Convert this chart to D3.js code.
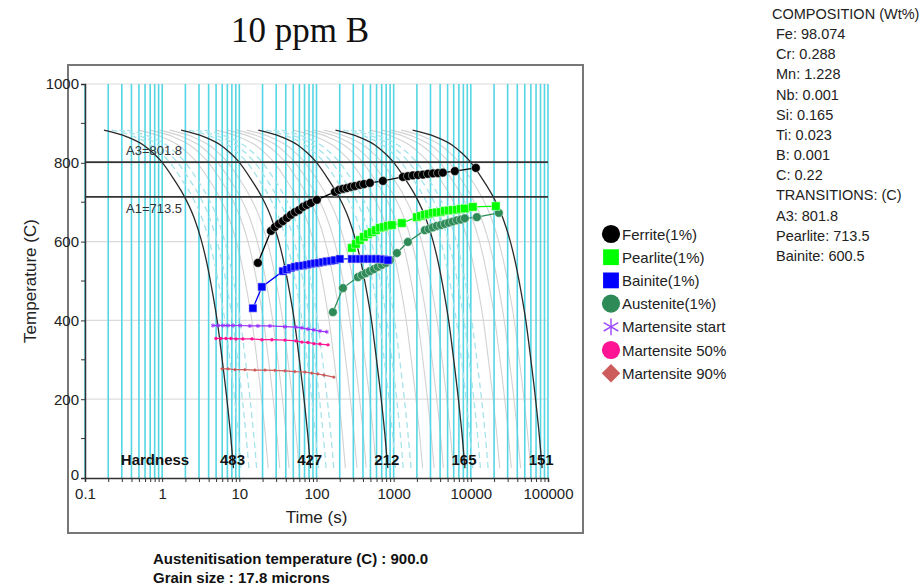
<!DOCTYPE html>
<html><head><meta charset="utf-8">
<script src="https://cdn.jsdelivr.net/npm/d3@7"></script>
<style>
body{margin:0;background:#fff}
svg{display:block}
text{font-family:"Liberation Sans",Arial,sans-serif}
</style>
</head><body>
<svg id="c" width="922" height="587"></svg>
<script>
// ---------------- data ----------------
const titleText = "10 ppm B";
const xTickLabels = ["0.1","1","10","100","1000","10000","100000"];
const xMajorTicks = [0.1,1,10,100,1000,10000,100000];
const yTickValues = [0,200,400,600,800,1000];
const yMinorTicks = [100,300,500,700,900];

// base cooling curve (fastest, hardness 483): time (s) and temperature (C)
const coolTime = [0.176,0.35,0.57,0.77,0.95,1.4,1.97,2.6,3.2,3.8,4.5,5.2,6.0,6.9,7.7,8.4];
const coolTemp = [883,866,845,824,806,760,712,660,605,545,470,395,300,200,110,25];
// labelled curves are the base curve shifted by whole decades
const hardnessDecades = [0,1,2,3,4];
const hardnessValues = [483,427,212,165,151];
// unlabelled curves between two labelled curves (fraction of a decade)
const dashedSteps = [0.1,0.2,0.3];
const solidSteps = [0.45,0.6,0.72,0.85];

const A3 = 801.8, A1 = 713.5;

const ferriteTime = [17.4,25.7,28.9,32.6,36.7,41.4,46.6,52.5,59.2,66.7,75.1,84.6,101,173,195,220,248,279,314,365,411,492,725,1316,1527,1774,2058,2389,2773,3221,3738,4335,6209,11610];
const ferriteTemp = [546,627,637,645,652,660,668,675,680,688,693,698,706,726,731,734,736,739,741,744,746,749,754,764,766,768,769,770,772,773,774,775,779,787];

const pearliteTime = [287,324,365,411,463,522,588,663,747,841,948,1277,1999,2250,2537,2858,3221,3630,4087,4603,5188,5848,6590,7417,8356,10617,21090];
const pearliteTemp = [584,594,604,612,619,624,629,635,637,640,642,647,662,665,668,670,673,674,675,678,679,680,681,683,684,688,690];

const bainiteTime = [15.0,19.6,36.7,41.4,46.6,52.5,59.2,66.7,75.1,84.6,95.3,107,121,136,154,173,201,287,324,365,411,463,522,588,663,747,841];
const bainiteTemp = [431,485,525,529,533,536,538,539,541,543,545,546,548,550,551,553,556,556,556,556,556,556,556,556,556,555,553];

const austeniteTime = [163,220,344,387,436,492,554,624,703,793,893,1100,1527,2537,2858,3221,3630,4087,4603,5188,5848,6590,7417,8356,11970,23070];
const austeniteTemp = [421,482,510,515,520,525,530,536,541,546,553,571,599,629,632,636,640,642,645,648,651,654,656,659,662,673];

const msStartTime = [4.55,5.28,6.13,7.12,8.26,10.2,13.7,17.4,24.9,39.0,54.1,64.7,77.4,92.5,111,136];
const msStartTemp = [387,387,387,387,387,387,386,386,386,384,383,381,378,376,373,371];

const ms50Time = [4.98,5.78,6.70,7.78,9.03,11.1,14.6,19.6,26.4,39.0,54.1,64.7,77.4,92.5,111,141];
const ms50Temp = [354,354,354,354,353,353,353,351,351,350,348,345,344,341,340,338];

const ms90Time = [5.96,7.12,8.77,11.8,15.9,21.5,28.9,39.0,52.5,70.8,87.1,104,125,168];
const ms90Temp = [277,277,275,275,274,274,273,272,270,269,266,264,261,256];

const legendLabels = ["Ferrite(1%)","Pearlite(1%)","Bainite(1%)","Austenite(1%)","Martensite start","Martensite 50%","Martensite 90%"];
const compositionLines = ["COMPOSITION (Wt%)","Fe: 98.074","Cr: 0.288","Mn: 1.228","Nb: 0.001","Si: 0.165","Ti: 0.023","B: 0.001","C: 0.22","TRANSITIONS: (C)","A3: 801.8","Pearlite: 713.5","Bainite: 600.5"];
const footerLines = ["Austenitisation temperature (C) : 900.0","Grain size : 17.8 microns"];

// ---------------- drawing ----------------
const svg = d3.select("#c");
svg.append("rect").attr("width",922).attr("height",587).attr("fill","#fff");

const x = d3.scaleLog().domain([0.1,100000]).range([85,548]);
const y = d3.scaleLinear().domain([0,1000]).range([478,84]);

// frame
svg.append("rect").attr("x",68).attr("y",65).attr("width",515).attr("height",468)
  .attr("fill","none").attr("stroke","#777").attr("stroke-width",2);

// title
svg.append("text").attr("x",300).attr("y",42).attr("text-anchor","middle")
  .style("font-family","'Liberation Serif','Times New Roman',serif").style("font-size","35px")
  .attr("fill","#111").text(titleText);

// all log ticks
const allXTicks = [];
xMajorTicks.forEach((m,i)=>{ if(i<xMajorTicks.length-1){ for(let k=1;k<10;k++) allXTicks.push(m*k);} else allXTicks.push(m); });

const g = svg.append("g");

// horizontal light grid
g.selectAll(".hg").data(yTickValues.filter(d=>d>0)).enter().append("line")
  .attr("x1",x(0.1)).attr("x2",x(100000)).attr("y1",d=>y(d)).attr("y2",d=>y(d))
  .attr("stroke","#dcdcdc").attr("stroke-width",1.2);

// cooling curves
const lineGen = d3.line().x(d=>x(d[0])).y(d=>y(d[1])).curve(d3.curveMonotoneX);
function curvePts(dec){ return coolTime.map((t,i)=>[t*Math.pow(10,dec), coolTemp[i]]); }

const solidOffsets = [], dashedOffsets = [];
hardnessDecades.slice(0,-1).forEach(k=>{
  solidSteps.forEach(s=>solidOffsets.push(k+s));
  dashedSteps.forEach(s=>dashedOffsets.push(k+s));
});
g.selectAll(".gc").data(solidOffsets).enter().append("path")
  .attr("d",d=>lineGen(curvePts(d))).attr("fill","none")
  .attr("stroke","#d2d2d2").attr("stroke-width",1.1);

// cyan verticals
g.selectAll(".vc").data(allXTicks).enter().append("line")
  .attr("x1",d=>x(d)).attr("x2",d=>x(d)).attr("y1",y(1000)).attr("y2",y(0))
  .attr("stroke","#55d6e4").attr("stroke-width",1.6);

g.selectAll(".dc").data(dashedOffsets).enter().append("path")
  .attr("d",d=>lineGen(curvePts(d))).attr("fill","none")
  .attr("stroke","#a6e3ea").attr("stroke-width",1.3).attr("stroke-dasharray","6,4");

// labelled (black) curves
g.selectAll(".bc").data(hardnessDecades).enter().append("path")
  .attr("d",d=>lineGen(curvePts(d))).attr("fill","none")
  .attr("stroke","#2a2a2a").attr("stroke-width",1.3);

// A3 / A1 lines
[[A3,"A3="+A3, -7],[A1,"A1="+A1, 16]].forEach(([v,lab,dy])=>{
  g.append("line").attr("x1",x(0.1)).attr("x2",x(100000)).attr("y1",y(v)).attr("y2",y(v))
    .attr("stroke","#333").attr("stroke-width",1.8);
  g.append("text").attr("x",126).attr("y",y(v)+dy).attr("fill","#333")
    .style("font-size","13px").text(lab);
});

// axes
const xAxis = d3.axisBottom(x).tickValues(allXTicks).tickSize(4).tickPadding(6)
  .tickFormat(d=>{ const i = xMajorTicks.indexOf(d); return i>=0 ? xTickLabels[i] : ""; });
const xa = svg.append("g").attr("transform",`translate(0,${y(0)})`).call(xAxis);
xa.select(".domain").attr("stroke","#333").attr("stroke-width",1.5);
xa.selectAll(".tick line").attr("stroke","#333");
xa.selectAll("text").style("font-size","15px").attr("fill","#222").style("font-family","'Liberation Sans',Arial,sans-serif");

const yAxis = d3.axisLeft(y).tickValues(yTickValues).tickSize(4).tickPadding(2).tickFormat(d3.format("d"));
const ya = svg.append("g").attr("transform",`translate(${x(0.1)},0)`).call(yAxis);
ya.select(".domain").attr("stroke","#333").attr("stroke-width",1.5);
ya.selectAll(".tick line").attr("stroke","#333");
ya.selectAll("text").style("font-size","15px").attr("fill","#222").style("font-family","'Liberation Sans',Arial,sans-serif");
ya.selectAll(".tick text").filter(d=>d===0).attr("dy","0.1em");
ya.selectAll(".minor").data(yMinorTicks).enter().append("line").attr("class","minor")
  .attr("x1",-4).attr("x2",0).attr("y1",d=>y(d)).attr("y2",d=>y(d)).attr("stroke","#333");

svg.append("text").attr("x",(x(0.1)+x(100000))/2).attr("y",523).attr("text-anchor","middle")
  .style("font-size","17px").attr("fill","#222").text("Time (s)");
svg.append("text").attr("transform",`translate(36,${(y(0)+y(1000))/2}) rotate(-90)`)
  .attr("text-anchor","middle").style("font-size","17px").attr("fill","#222").text("Temperature (C)");

// hardness labels
svg.append("text").attr("x",155).attr("y",465).attr("text-anchor","middle")
  .style("font-size","15px").style("font-weight","bold").attr("fill","#111").text("Hardness");
svg.selectAll(".hv").data(hardnessValues).enter().append("text")
  .attr("x",(d,i)=>x(coolTime[coolTime.length-1]*Math.pow(10,hardnessDecades[i]))-1)
  .attr("y",465).attr("text-anchor","middle")
  .style("font-size","15px").style("font-weight","bold").attr("fill","#111").text(d=>d);

// transformation series
function series(times, temps, color, sym, size, lw, strokeEdge, rot){
  const pts = times.map((t,i)=>[t,temps[i]]);
  const gg = svg.append("g");
  gg.append("path").attr("d",d3.line().x(d=>x(d[0])).y(d=>y(d[1]))(pts))
    .attr("fill","none").attr("stroke",color).attr("stroke-width",lw);
  const s = d3.symbol().type(sym).size(size);
  gg.selectAll("path.m").data(pts).enter().append("path").attr("class","m")
    .attr("transform",d=>`translate(${x(d[0])},${y(d[1])})${rot?" rotate(45)":""}`).attr("d",s)
    .attr("fill", sym===d3.symbolAsterisk ? "none" : color)
    .attr("stroke", sym===d3.symbolAsterisk ? color : strokeEdge)
    .attr("stroke-width", sym===d3.symbolAsterisk ? 1 : 0.5);
}
series(msStartTime, msStartTemp, "#9b30ff", d3.symbolAsterisk, 12, 1.2, null);
series(ms50Time, ms50Temp, "#ff1493", d3.symbolCircle, 9, 1.2, "none");
series(ms90Time, ms90Temp, "#cd5c5c", d3.symbolSquare, 7, 1.2, "none", true);
series(austeniteTime, austeniteTemp, "#2e8b57", d3.symbolCircle, 60, 1.3, "#e8f5ee");
series(bainiteTime, bainiteTemp, "#0000ff", d3.symbolSquare, 64, 1.3, "#dde");
series(pearliteTime, pearliteTemp, "#00ff00", d3.symbolSquare, 72, 1.3, "#efe");
series(ferriteTime, ferriteTemp, "#000", d3.symbolCircle, 60, 1.3, "#ddd");

// legend
const legendColors = ["#000","#00ff00","#0000ff","#2e8b57","#a050ff","#ff1493","#cd5c5c"];
const legendSyms = [d3.symbolCircle,d3.symbolSquare,d3.symbolSquare,d3.symbolCircle,d3.symbolAsterisk,d3.symbolCircle,d3.symbolSquare];
const lg = svg.append("g");
legendLabels.forEach((lab,i)=>{
  const cy = 234 + i*23.2;
  const sym = legendSyms[i];
  const isStar = sym===d3.symbolAsterisk;
  const isDiamond = i===6;
  lg.append("path").attr("transform",`translate(611,${cy})${isDiamond?" rotate(45)":""}`)
    .attr("d",d3.symbol().type(sym).size(isStar?200:(isDiamond?170:(sym===d3.symbolSquare?250:260)))())
    .attr("fill",isStar?"none":legendColors[i]).attr("stroke",isStar?legendColors[i]:"none").attr("stroke-width",1.5);
  lg.append("text").attr("x",622).attr("y",cy+5.5).style("font-size","15px").attr("fill","#222").text(lab);
});

// composition block
svg.selectAll(".comp").data(compositionLines).enter().append("text")
  .attr("x",(d,i)=>i===0?772:776).attr("y",(d,i)=>19+i*20.15)
  .style("font-size","14.5px").attr("fill","#222").text(d=>d);

// footer
svg.selectAll(".foot").data(footerLines).enter().append("text")
  .attr("x",153).attr("y",(d,i)=>564+i*19)
  .style("font-size","15px").style("font-weight","bold").attr("fill","#111").text(d=>d);
</script>
</body></html>
